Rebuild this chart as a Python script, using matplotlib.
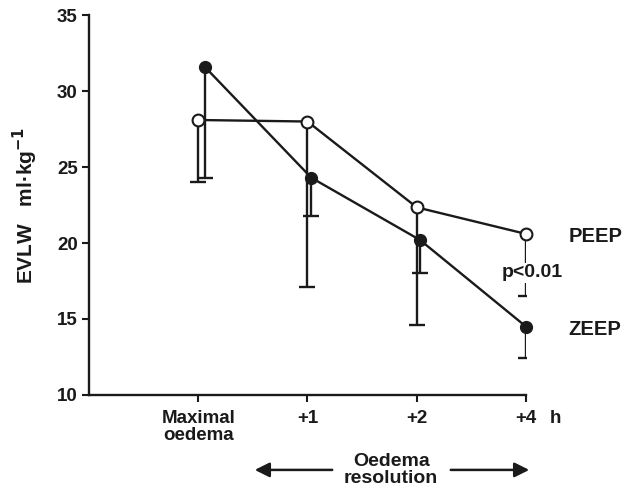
import matplotlib
matplotlib.use("Agg")
import matplotlib.pyplot as plt
from matplotlib.patches import FancyArrowPatch
from matplotlib.transforms import ScaledTranslation

plt.rcParams['font.family'] = ['Liberation Sans', 'DejaVu Sans']
plt.rcParams['font.weight'] = 'bold'
plt.rcParams['mathtext.default'] = 'bf'

# data
categories = ["Maximal\noedema", "+1", "+2", "+4"]
peep_mean = [28.1, 28.0, 22.35, 20.6]
peep_low = [24.05, 17.1, 14.6, 16.5]
zeep_mean = [31.6, 24.3, 20.2, 14.5]
zeep_low = [24.3, 21.8, 18.0, 12.4]

# small horizontal dodge of the ZEEP points (style only)
zeep_dodge = [0.06, 0.035, 0.03, 0.0]

x = [i + 1 for i in range(len(categories))]
x_z = [xi + d for xi, d in zip(x, zeep_dodge)]

fig = plt.figure(figsize=(6.31, 4.90), dpi=100)
ax = fig.add_axes([0.141, 0.194, 0.6926, 0.775])

col = '#1a1a1a'
lw = 1.7

# lower-only error bars, drawn by hand so there is no top cap
for xs, mean, low in [(x, peep_mean, peep_low), (x_z, zeep_mean, zeep_low)]:
    ax.vlines(xs, low, mean, color=col, lw=lw, zorder=2)
    ax.plot(xs, low, ls='none', marker='_', ms=11, mew=lw, color=col, zorder=2)

ax.plot(x, peep_mean, '-o', color=col, lw=lw, ms=8.5,
        mfc='white', mec=col, mew=1.5, zorder=3, clip_on=False)
ax.plot(x_z, zeep_mean, '-o', color=col, lw=lw, ms=8.5,
        mfc=col, mec=col, zorder=3, clip_on=False)

ax.set_xlim(0, 4)
ax.set_ylim(10, 35)
ax.set_yticks([10, 15, 20, 25, 30, 35])
ax.set_xticks(x)
ax.set_xticklabels(categories, fontsize=13.5, linespacing=1.0)
ax.tick_params(axis='y', labelsize=13.5, length=5, width=1.5, pad=3, colors=col)
ax.tick_params(axis='x', length=5, width=1.5, pad=6, colors=col)
for s in ['top', 'right']:
    ax.spines[s].set_visible(False)
for s in ['left', 'bottom']:
    ax.spines[s].set_linewidth(1.7)
    ax.spines[s].set_color(col)

ax.set_ylabel(r"EVLW   ml·kg$^{-1}$", fontsize=15, fontweight='bold',
              labelpad=12, color=col)

# "h" unit next to the last tick label
h_tr = ax.transData + ScaledTranslation(0, -11 / 72, fig.dpi_scale_trans)
ax.text(4.27, 10, "h", transform=h_tr, fontsize=13.5, ha='center', va='top',
        color=col, clip_on=False)

ax.text(4.39, peep_mean[-1] - 0.15, "PEEP", fontsize=14.5, ha='left', va='center',
        color=col, clip_on=False)
ax.text(4.39, zeep_mean[-1] - 0.2, "ZEEP", fontsize=14.5, ha='left', va='center',
        color=col, clip_on=False)
ax.text(4.055, 18.05, "p<0.01", fontsize=14, ha='center', va='center', color=col,
        bbox=dict(facecolor='white', edgecolor='none', pad=1), zorder=4, clip_on=False)

# bottom arrows
fig.text(0.62, 0.041, "Oedema\nresolution", fontsize=14, ha='center', va='center',
         linespacing=0.95, color=col)
arrow = dict(arrowstyle='-|>', color=col, lw=1.8, mutation_scale=22)
fig.add_artist(FancyArrowPatch((335 / 631, 0.041), (252 / 631, 0.041),
                               transform=fig.transFigure, **arrow))
fig.add_artist(FancyArrowPatch((448 / 631, 0.041), (532 / 631, 0.041),
                               transform=fig.transFigure, **arrow))

fig.savefig("out.png", dpi=100)
